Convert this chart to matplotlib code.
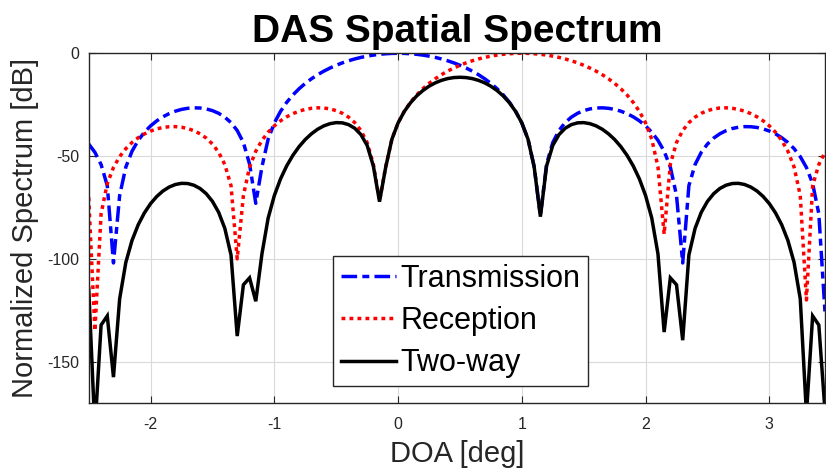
import matplotlib
matplotlib.use("Agg")
import matplotlib.pyplot as plt
import numpy as np

plt.rcParams['font.family'] = ['Liberation Sans', 'DejaVu Sans']
plt.rcParams['axes.unicode_minus'] = False

# DOA sampling grid [deg], 0.05 deg step
doa = np.linspace(-2.5, 3.45, 120)

# transmit beam, steered to 0 deg [dB]
tx_db = [
    -44.15, -48.17, -54.13, -64.39, -102.0, -69.19, -55.33, -47.64, -42.36, -38.41,
    -35.32, -32.86, -30.90, -29.35, -28.16, -27.30, -26.76, -26.53, -26.62, -27.07,
    -27.90, -29.20, -31.08, -33.74, -37.58, -43.43, -53.94, -73.0, -55.19, -41.76,
    -33.89, -28.26, -23.87, -20.28, -17.25, -14.65, -12.40, -10.42, -8.69, -7.17,
    -5.83, -4.65, -3.63, -2.75, -2.00, -1.38, -0.88, -0.49, -0.22, -0.05,
    0.00, -0.05, -0.22, -0.49, -0.88, -1.38, -2.00, -2.75, -3.63, -4.65,
    -5.83, -7.17, -8.69, -10.42, -12.40, -14.65, -17.25, -20.28, -23.87, -28.26,
    -33.89, -41.76, -55.19, -79.0, -53.94, -43.43, -37.58, -33.74, -31.08, -29.20,
    -27.90, -27.07, -26.62, -26.53, -26.76, -27.30, -28.16, -29.35, -30.90, -32.86,
    -35.32, -38.41, -42.36, -47.64, -55.33, -69.19, -102.0, -64.39, -54.13, -48.17,
    -44.15, -41.27, -39.17, -37.66, -36.61, -35.97, -35.68, -35.73, -36.09, -36.79,
    -37.82, -39.23, -41.06, -43.40, -46.39, -50.28, -55.56, -63.39, -78.09, -126.0,
]

# receive beam, steered to 1 deg [dB]
rx_db = [
    -70.16, -135.0, -78.09, -63.39, -55.56, -50.28, -46.39, -43.40, -41.06, -39.23,
    -37.82, -36.79, -36.09, -35.73, -35.68, -35.97, -36.61, -37.66, -39.17, -41.27,
    -44.15, -48.17, -54.13, -64.39, -100.0, -69.19, -55.33, -47.64, -42.36, -38.41,
    -35.32, -32.86, -30.90, -29.35, -28.16, -27.30, -26.76, -26.53, -26.62, -27.07,
    -27.90, -29.20, -31.08, -33.74, -37.58, -43.43, -53.94, -71.7, -55.19, -41.76,
    -33.89, -28.26, -23.87, -20.28, -17.25, -14.65, -12.40, -10.42, -8.69, -7.17,
    -5.83, -4.65, -3.63, -2.75, -2.00, -1.38, -0.88, -0.49, -0.22, -0.05,
    0.00, -0.05, -0.22, -0.49, -0.88, -1.38, -2.00, -2.75, -3.63, -4.65,
    -5.83, -7.17, -8.69, -10.42, -12.40, -14.65, -17.25, -20.28, -23.87, -28.26,
    -33.89, -41.76, -55.19, -88.0, -53.94, -43.43, -37.58, -33.74, -31.08, -29.20,
    -27.90, -27.07, -26.62, -26.53, -26.76, -27.30, -28.16, -29.35, -30.90, -32.86,
    -35.32, -38.41, -42.36, -47.64, -55.33, -69.19, -120.0, -64.39, -54.13, -48.17,
]

# two-way (tx + rx) [dB]
twoway_db = [
    -114.31, -183.17, -132.22, -127.78, -157.56, -119.47, -101.72, -91.04, -83.42, -77.64,
    -73.14, -69.65, -66.99, -65.08, -63.84, -63.27, -63.37, -64.19, -65.79, -68.34,
    -72.05, -77.37, -85.21, -98.13, -137.58, -112.62, -109.27, -120.64, -97.55, -80.17,
    -69.21, -61.12, -54.77, -49.63, -45.41, -41.95, -39.16, -36.95, -35.31, -34.24,
    -33.73, -33.85, -34.71, -36.49, -39.58, -44.81, -54.82, -72.19, -55.41, -41.81,
    -33.89, -28.31, -24.09, -20.77, -18.13, -16.03, -14.40, -13.17, -12.32, -11.82,
    -11.66, -11.82, -12.32, -13.17, -14.40, -16.03, -18.13, -20.77, -24.09, -28.31,
    -33.89, -41.81, -55.41, -79.49, -54.82, -44.81, -39.58, -36.49, -34.71, -33.85,
    -33.73, -34.24, -35.31, -36.95, -39.16, -41.95, -45.41, -49.63, -54.77, -61.12,
    -69.21, -80.17, -97.55, -135.64, -109.27, -112.62, -139.58, -98.13, -85.21, -77.37,
    -72.05, -68.34, -65.79, -64.19, -63.37, -63.27, -63.84, -65.08, -66.99, -69.65,
    -73.14, -77.64, -83.42, -91.04, -101.72, -119.47, -175.56, -127.78, -132.22, -174.17,
]

xticks = [-2, -1, 0, 1, 2, 3]
yticks = [-150, -100, -50, 0]

fig = plt.figure(figsize=(8.26, 4.72), dpi=100)
ax = fig.add_axes([0.1074, 0.1468, 0.8914, 0.7403])

ax.plot(doa, tx_db, color=(0, 0, 1), lw=2.5, linestyle=(0, (4.5, 1.5, 2, 1.5)),
        solid_joinstyle='miter', label='Transmission')
ax.plot(doa, rx_db, color=(1, 0, 0), lw=2.5, linestyle=(0, (1.1, 1.2)),
        label='Reception')
ax.plot(doa, twoway_db, color='k', lw=2.5, solid_joinstyle='miter',
        label='Two-way')

ax.set_xlim(-2.5, 3.45)
ax.set_ylim(-170, 0)
ax.set_xticks(xticks)
ax.set_yticks(yticks)
ax.set_xticklabels([str(t) for t in xticks])
ax.set_yticklabels([str(t) for t in yticks])

# matlab-like box: inward ticks on all four sides, light grid
ax.grid(True, color='#dadada', lw=0.8)
ax.set_axisbelow(True)
ax.tick_params(direction='in', top=True, right=True, length=5, width=0.8,
               colors='#262626', labelsize=11.5, pad=7)
ax.tick_params(axis='x', pad=10)
for sp in ax.spines.values():
    sp.set_color('#262626')
    sp.set_linewidth(1.0)

ax.set_xlabel('DOA [deg]', fontsize=21, color='#262626', labelpad=6)
ax.set_ylabel('Normalized Spectrum [dB]', fontsize=21, color='#262626', labelpad=6)
ax.set_title('DAS Spatial Spectrum', fontsize=28, fontweight='bold', pad=8)

leg = ax.legend(loc='lower center', bbox_to_anchor=(0.505, 0.048), borderaxespad=0,
                fontsize=22, handlelength=1.8, handletextpad=0.15, labelspacing=0.4,
                borderpad=0.25, fancybox=False, framealpha=1, edgecolor='#262626')
leg.get_frame().set_linewidth(1.0)

plt.savefig('out.png', dpi=100)
